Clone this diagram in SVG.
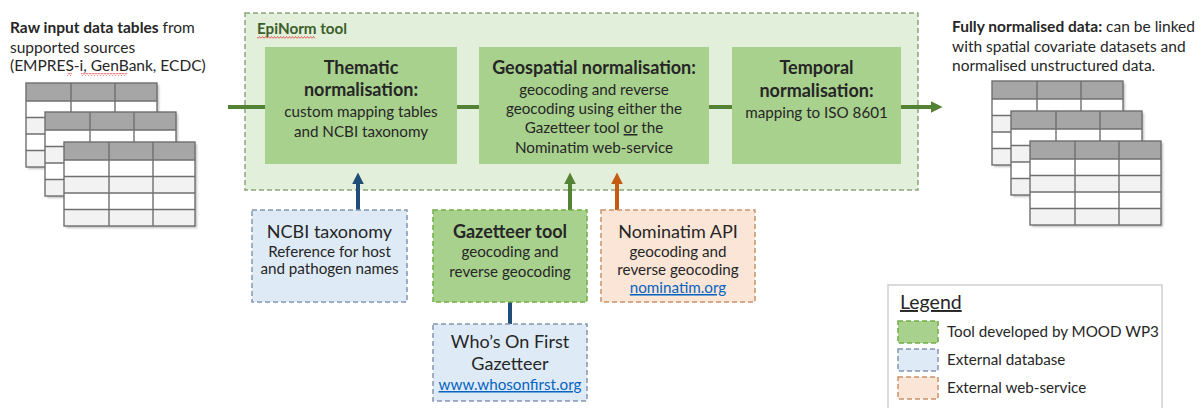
<svg xmlns="http://www.w3.org/2000/svg" width="1199" height="408" viewBox="0 0 1199 408">
  <style>
    text { font-family: Lato, "Noto Sans", "Liberation Sans", sans-serif; fill: #262626; }
    .t14 { font-size: 15.2px; }
    .t15 { font-size: 15.5px; }
    .t17 { font-size: 18px; }
    .b { font-weight: bold; }
    .mid { text-anchor: middle; }
    .link { fill: #0563c1; text-decoration: underline; }
    .tool { fill: #a9d18e; }
    .toolDash { fill: #a9d18e; stroke: #70ad47; stroke-width: 1.5; stroke-dasharray: 5 3; }
    .db { fill: #deebf7; stroke: #8497b0; stroke-width: 1.5; stroke-dasharray: 5 3; }
    .ws { fill: #fbe5d6; stroke: #c9936b; stroke-width: 1.5; stroke-dasharray: 5 3; }
    .squig { fill: none; stroke: #e05050; stroke-width: 1; }
  </style>
  <defs>
    <filter id="shadow" x="-10%" y="-10%" width="130%" height="130%">
      <feDropShadow dx="2" dy="2" stdDeviation="1.2" flood-color="#000" flood-opacity="0.25"/>
    </filter>
    <marker id="headGreen" viewBox="0 0 10 10" refX="2" refY="5" markerWidth="3" markerHeight="3" orient="auto" markerUnits="strokeWidth">
      <path d="M0,0 L10,5 L0,10 z" fill="#548235"/>
    </marker>
    <marker id="headBlue" viewBox="0 0 10 10" refX="2" refY="5" markerWidth="3" markerHeight="3" orient="auto" markerUnits="strokeWidth">
      <path d="M0,0 L10,5 L0,10 z" fill="#1f4e79"/>
    </marker>
    <marker id="headOrange" viewBox="0 0 10 10" refX="2" refY="5" markerWidth="3" markerHeight="3" orient="auto" markerUnits="strokeWidth">
      <path d="M0,0 L10,5 L0,10 z" fill="#c55a11"/>
    </marker>
    <!-- wavy spell-check underline, 6px per repeat -->
    <pattern id="wave" width="3" height="3" patternUnits="userSpaceOnUse">
      <path d="M0,2.5 L1.5,0.5 L3,2.5" fill="none" stroke="#e05050" stroke-width="0.9"/>
    </pattern>
    <!-- one data table: grey header row, four alternating body rows -->
    <g id="table">
      <rect x="0" y="0" width="131" height="84" fill="#ffffff" filter="url(#shadow)"/>
      <rect x="0" y="0" width="131" height="18" fill="#a6a6a6"/>
      <rect x="0" y="34.5" width="131" height="16.5" fill="#f2f2f2"/>
      <rect x="0" y="67.5" width="131" height="16.5" fill="#f2f2f2"/>
      <g stroke="#6f6f6f" stroke-width="1.4" fill="none">
        <rect x="0" y="0" width="131" height="84"/>
        <line x1="0" y1="18" x2="131" y2="18"/>
        <line x1="0" y1="34.5" x2="131" y2="34.5"/>
        <line x1="0" y1="51" x2="131" y2="51"/>
        <line x1="0" y1="67.5" x2="131" y2="67.5"/>
        <line x1="45" y1="0" x2="45" y2="84"/>
        <line x1="89" y1="0" x2="89" y2="84"/>
      </g>
    </g>
  </defs>

  <rect x="0" y="0" width="1199" height="408" fill="#ffffff"/>

  <!-- input tables -->
  <g id="input-data">
    <text class="t15" x="10" y="33"><tspan class="b">Raw input data tables</tspan> from</text>
    <text class="t15" x="10" y="53">supported sources</text>
    <text class="t15" x="10" y="71">(EMPRES-i, GenBank, ECDC)</text>
    <rect x="67" y="73" width="5" height="3" fill="url(#wave)"/>
    <rect x="81" y="73" width="46" height="3" fill="url(#wave)"/>
    <use href="#table" x="26" y="83"/>
    <use href="#table" x="45" y="112"/>
    <use href="#table" x="64" y="142"/>
  </g>

  <!-- EpiNorm container -->
  <g id="epinorm">
    <rect x="245" y="13" width="673" height="177" fill="#e2efda" stroke="#8aa67a" stroke-width="1.5" stroke-dasharray="5 3"/>
    <text class="t14 b" x="257" y="34" style="fill:#3b5e2b">EpiNorm tool</text>
    <rect x="257" y="36" width="58" height="3" fill="url(#wave)"/>
  </g>

  <!-- connectors -->
  <g id="connectors" fill="none" stroke-width="4">
    <line x1="228" y1="107" x2="933" y2="107" stroke="#548235" marker-end="url(#headGreen)"/>
    <line x1="358" y1="210" x2="358" y2="182" stroke="#1f4e79" marker-end="url(#headBlue)"/>
    <line x1="570" y1="210" x2="570" y2="182" stroke="#548235" marker-end="url(#headGreen)"/>
    <line x1="617" y1="210" x2="617" y2="182" stroke="#c55a11" marker-end="url(#headOrange)"/>
    <line x1="510" y1="324" x2="510" y2="299" stroke="#1f4e79" marker-end="url(#headBlue)"/>
  </g>

  <g id="thematic">
    <rect class="tool" x="265" y="47" width="192" height="117"/>
    <text class="t17 b mid" x="361" y="74">Thematic</text>
    <text class="t17 b mid" x="361" y="96">normalisation:</text>
    <text class="t14 mid" x="361" y="117">custom mapping tables</text>
    <text class="t14 mid" x="361" y="137">and NCBI taxonomy</text>
  </g>

  <g id="geospatial">
    <rect class="tool" x="479" y="47" width="230" height="117"/>
    <text class="t17 b mid" x="594" y="74">Geospatial normalisation:</text>
    <text class="t14 mid" x="594" y="95">geocoding and reverse</text>
    <text class="t14 mid" x="594" y="114">geocoding using either the</text>
    <text class="t14 mid" x="594" y="133">Gazetteer tool <tspan text-decoration="underline">or</tspan> the</text>
    <text class="t14 mid" x="594" y="153">Nominatim web-service</text>
  </g>

  <g id="temporal">
    <rect class="tool" x="732" y="47" width="169" height="117"/>
    <text class="t17 b mid" x="816.5" y="74">Temporal</text>
    <text class="t17 b mid" x="816.5" y="97">normalisation:</text>
    <text class="t14 mid" x="816.5" y="118">mapping to ISO 8601</text>
  </g>

  <!-- output tables -->
  <g id="output-data">
    <text class="t15" x="952" y="32"><tspan class="b">Fully normalised data:</tspan> can be linked</text>
    <text class="t15" x="952" y="52">with spatial covariate datasets and</text>
    <text class="t15" x="952" y="71">normalised unstructured data.</text>
    <use href="#table" x="992" y="81"/>
    <use href="#table" x="1011" y="111"/>
    <use href="#table" x="1030" y="141"/>
  </g>

  <g id="ncbi">
    <rect class="db" x="252" y="210" width="155" height="92"/>
    <text class="t17 mid" x="329.5" y="238">NCBI taxonomy</text>
    <text class="t14 mid" x="329.5" y="257">Reference for host</text>
    <text class="t14 mid" x="329.5" y="274">and pathogen names</text>
  </g>

  <g id="gazetteer-tool">
    <rect class="toolDash" x="433" y="210" width="154" height="92"/>
    <text class="t17 b mid" x="510" y="238">Gazetteer tool</text>
    <text class="t14 mid" x="510" y="257">geocoding and</text>
    <text class="t14 mid" x="510" y="277">reverse geocoding</text>
  </g>

  <g id="nominatim">
    <rect class="ws" x="601" y="210" width="154" height="92"/>
    <text class="t17 mid" x="678" y="238">Nominatim API</text>
    <text class="t14 mid" x="678" y="257">geocoding and</text>
    <text class="t14 mid" x="678" y="275">reverse geocoding</text>
    <text class="t14 mid link" x="678" y="293">nominatim.org</text>
  </g>

  <g id="whosonfirst">
    <rect class="db" x="433" y="324" width="154" height="77"/>
    <text class="t17 mid" x="510" y="348">Who’s On First</text>
    <text class="t17 mid" x="510" y="370">Gazetteer</text>
    <text class="t14 mid link" x="510" y="390">www.whosonfirst.org</text>
  </g>

  <g id="legend">
    <rect x="888" y="285" width="274" height="130" fill="#ffffff" stroke="#d0d0d0" stroke-width="1.5"/>
    <text x="900" y="309" style="font-size:19.5px;text-decoration:underline">Legend</text>
    <rect class="toolDash" x="898" y="321" width="40" height="22"/>
    <text class="t14" x="947" y="337">Tool developed by MOOD WP3</text>
    <rect class="db" x="898" y="349" width="40" height="22"/>
    <text class="t14" x="947" y="365">External database</text>
    <rect class="ws" x="898" y="377" width="40" height="22"/>
    <text class="t14" x="947" y="393">External web-service</text>
  </g>
</svg>
